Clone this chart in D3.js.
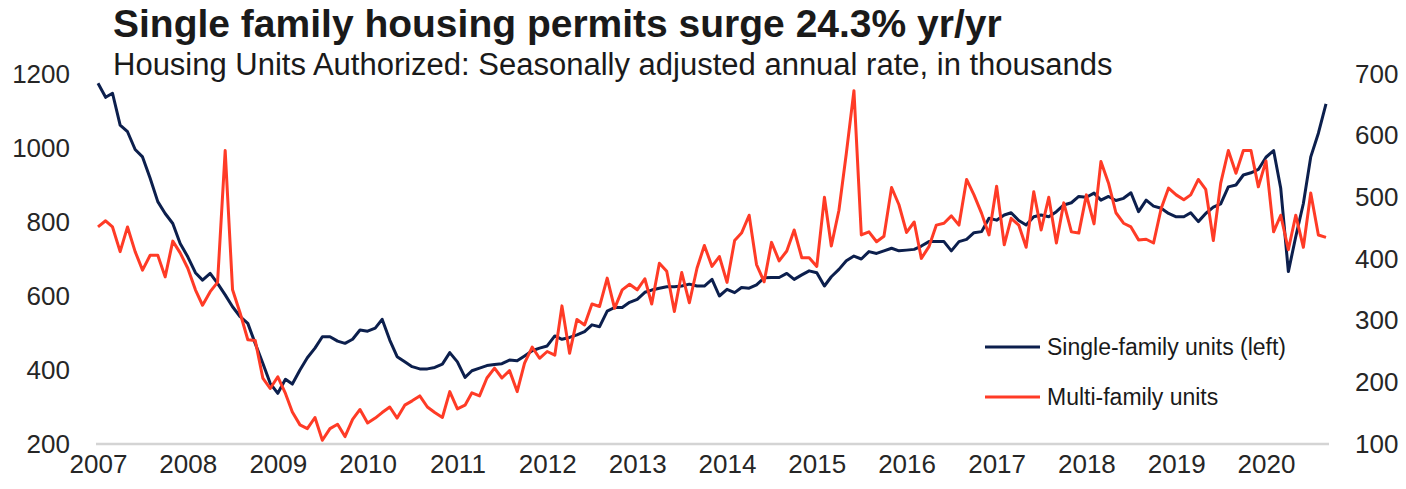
<!DOCTYPE html>
<html>
<head>
<meta charset="utf-8">
<script src="https://cdn.jsdelivr.net/npm/d3@7"></script>
<style>
  body { margin: 0; background: #fff; }
  svg { display: block; font-family: "Liberation Sans", Arial, sans-serif; }
  .axis text { fill: #262626; font-size: 26px; }
  .axis path { display: none; }
</style>
</head>
<body>
<script>

// monthly data, Jan 2007 .. Sep 2020
var startYear = 2007, startMonth = 0;

// single-family permits, thousands (left axis)
var singleFamily = [
  1175, 1137, 1148, 1062, 1044, 996, 976, 918, 855, 823, 796, 742,
  706, 663, 643, 661, 634, 603, 571, 544, 526, 472, 418, 364,
  337, 375, 362, 400, 433, 459, 490, 490, 478, 472, 483, 508,
  505, 513, 537, 481, 436, 422, 409, 403, 403, 407, 416, 447,
  422, 380, 398, 405, 412, 415, 417, 427, 425, 438, 452, 459,
  465, 492, 483, 488, 495, 504, 522, 517, 559, 569, 569, 583,
  591, 610, 616, 621, 625, 625, 627, 632, 627, 627, 645, 600,
  618, 609, 623, 621, 630, 649, 650, 650, 661, 645, 657, 668,
  663, 627, 652, 672, 695, 708, 700, 720, 715, 722, 729, 722,
  724, 726, 735, 747, 747, 747, 722, 747, 753, 771, 774, 810,
  805, 819, 825, 804, 792, 814, 819, 814, 828, 846, 852, 869,
  867, 878, 859, 869, 858, 864, 879, 828, 859, 843, 837, 823,
  814, 814, 825, 801, 823, 840, 849, 895, 900, 927, 933, 942,
  975, 993, 891, 666, 760, 850, 976, 1040, 1119
];

// multi-family permits, thousands (right axis)
var multiFamily = [
  452, 462, 452, 412, 452, 412, 382, 406, 406, 371, 429, 410,
  385, 350, 325, 347, 362, 576, 350, 312, 269, 268, 207, 190,
  209, 182, 152, 131, 125, 143, 106, 125, 132, 112, 140, 156,
  134, 142, 151, 160, 142, 163, 170, 178, 160, 151, 143, 185,
  157, 163, 183, 178, 207, 223, 207, 219, 185, 231, 257, 239,
  250, 244, 324, 247, 302, 293, 327, 323, 369, 320, 350, 359,
  350, 368, 327, 393, 380, 315, 378, 329, 385, 422, 388, 404,
  362, 430, 442, 471, 391, 363, 427, 397, 413, 447, 402, 402,
  388, 500, 421, 479, 571, 673, 439, 444, 428, 437, 516, 488,
  443, 460, 401, 420, 455, 458, 470, 455, 529, 504, 474, 439,
  518, 423, 466, 455, 419, 509, 447, 500, 426, 491, 444, 442,
  504, 457, 558, 523, 475, 458, 452, 431, 432, 426, 482, 515,
  504, 496, 504, 529, 513, 430, 523, 576, 539, 576, 576, 517,
  559, 444, 471, 415, 471, 419, 507, 439, 435
];

var yearLabels = [2007, 2008, 2009, 2010, 2011, 2012, 2013, 2014, 2015, 2016, 2017, 2018, 2019, 2020];
var leftTicks = [200, 400, 600, 800, 1000, 1200];
var rightTicks = [100, 200, 300, 400, 500, 600, 700];

var title = "Single family housing permits surge 24.3% yr/yr";
var subtitle = "Housing Units Authorized: Seasonally adjusted annual rate, in thousands";
var seriesNames = ["Single-family units (left)", "Multi-family units"];

var navy = "#0c1f4d", red = "#ff3b26";

var W = 1406, H = 489;
var plot = {left: 96, right: 1329, top: 74, bottom: 444};

function monthDate(i) { return new Date(startYear, startMonth + i, 1); }

var x = d3.scaleTime()
    .domain([monthDate(0), monthDate(singleFamily.length - 1)])
    .range([plot.left + 2, plot.right - 3]);

var yLeft = d3.scaleLinear()
    .domain([200, 1200])
    .range([plot.bottom, plot.top]);

var yRight = d3.scaleLinear()
    .domain([100, 700])
    .range([plot.bottom, plot.top]);

var svg = d3.select("body").append("svg")
    .attr("width", W)
    .attr("height", H);

// titles
svg.append("text")
    .attr("x", 113)
    .attr("y", 37)
    .style("font-size", "39px")
    .style("font-weight", "bold")
    .style("fill", "#1a1a1a")
    .text(title);

svg.append("text")
    .attr("x", 113)
    .attr("y", 75)
    .style("font-size", "31px")
    .style("fill", "#1a1a1a")
    .text(subtitle);

// baseline
svg.append("line")
    .attr("x1", plot.left)
    .attr("x2", plot.right)
    .attr("y1", plot.bottom)
    .attr("y2", plot.bottom)
    .style("stroke", "#d4d4d4")
    .style("stroke-width", 2.5);

// axes
svg.append("g")
    .attr("class", "axis")
    .attr("transform", "translate(" + plot.left + ",0)")
    .call(d3.axisLeft(yLeft).tickValues(leftTicks).tickFormat(d3.format("d")).tickSize(0).tickPadding(26));

svg.append("g")
    .attr("class", "axis")
    .attr("transform", "translate(" + plot.right + ",0)")
    .call(d3.axisRight(yRight).tickValues(rightTicks).tickFormat(d3.format("d")).tickSize(0).tickPadding(26));

svg.append("g")
    .attr("class", "axis")
    .attr("transform", "translate(0," + plot.bottom + ")")
    .call(d3.axisBottom(x)
      .tickValues(yearLabels.map(function(yr) { return new Date(yr, 0, 1); }))
      .tickFormat(d3.timeFormat("%Y"))
      .tickSize(0)
      .tickPadding(11));

// lines
var singleLine = d3.line()
    .x(function(d, i) { return x(monthDate(i)); })
    .y(function(d) { return yLeft(d); });

var multiLine = d3.line()
    .x(function(d, i) { return x(monthDate(i)); })
    .y(function(d) { return yRight(d); });

svg.append("path")
    .datum(singleFamily)
    .attr("d", singleLine)
    .style("fill", "none")
    .style("stroke", navy)
    .style("stroke-width", 3)
    .style("stroke-linejoin", "round");

svg.append("path")
    .datum(multiFamily)
    .attr("d", multiLine)
    .style("fill", "none")
    .style("stroke", red)
    .style("stroke-width", 3)
    .style("stroke-linejoin", "round");

// legend
var legend = svg.selectAll(".legend")
    .data(seriesNames)
  .enter().append("g")
    .attr("class", "legend")
    .attr("transform", function(d, i) { return "translate(985," + (347 + i * 50) + ")"; });

legend.append("line")
    .attr("x1", 0)
    .attr("x2", 55)
    .style("stroke", function(d, i) { return i === 0 ? navy : red; })
    .style("stroke-width", 3);

legend.append("text")
    .attr("x", 62)
    .attr("dy", ".35em")
    .style("font-size", "23px")
    .style("fill", "#1a1a1a")
    .text(function(d) { return d; });

</script>
</body>
</html>
